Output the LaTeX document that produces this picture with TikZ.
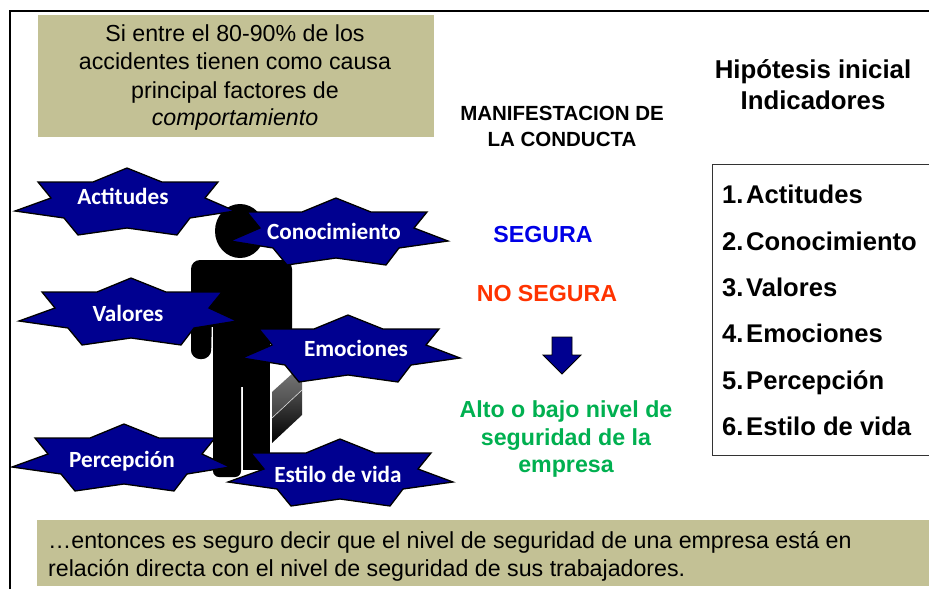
\documentclass[tikz,border=0pt]{standalone}
\usepackage{fontspec}
\setmainfont{Liberation Sans}
\newfontfamily\starfont{Carlito}
\definecolor{olivebox}{HTML}{C3C195}
\definecolor{starblue}{HTML}{000090}
\definecolor{safeblue}{HTML}{0000E6}
\definecolor{unsafered}{HTML}{FF3300}
\definecolor{levelgreen}{HTML}{00B050}
\tikzset{
  olivefill/.style={fill=olivebox,draw=none},
  boldtext/.style={inner sep=0pt,align=center},
  starshape/.style={fill=starblue,draw=black,line width=1.3pt,line join=miter},
  startext/.style={inner sep=0pt,text=white,font=\starfont\fontsize{23.2}{23.2}\selectfont\bfseries},
  figurefill/.style={fill=black,draw=none},
  listtext/.style={inner sep=0pt,anchor=base west,font=\fontsize{25.6}{25.6}\selectfont\bfseries},
}
% #1 name, #2 apex x, #3 apex y, #4 left tip dx, #5 right tip dx, #6 text, #7 text dx, #8 text dy
\newcommand{\blobstar}[8]{%
  \draw[starshape] (#2,#3) ++(#4,43) -- ++(-#4-63,7) -- ++(14,17) -- ++(49,-7) -- ++(50,7) -- ++(13,-17)
    -- (#2+#5,#3+43) -- (#2+78,#3+30) -- (#2+91,#3+14) -- (#2+35,#3+14) -- (#2,#3) -- (#2-34,#3+14)
    -- (#2-89,#3+14) -- (#2-76,#3+30) -- cycle;
  \node[startext] (#1) at (#2+#7,#3+#8) {#6};%
}
\begin{document}
\begin{tikzpicture}[x=1pt,y=-1pt]
\useasboundingbox (0,0) rectangle (929,589);
\fill[white] (0,0) rectangle (929,589);
% slide frame
\draw[black,line width=1.2pt] (10,589) -- (10,11) -- (929,11);
% olive boxes
\path[olivefill] (38,15) rectangle (434,137);
\path[olivefill] (37,520) rectangle (929,586);
\node[inner sep=0pt,align=center,font=\fontsize{23.2}{28}\selectfont] (intro) at (235,78)
  {Si entre el 80-90\% de los\\accidentes tienen como causa\\principal factores de\\\textit{comportamiento}};
\node[inner sep=0pt,align=left,anchor=west,font=\fontsize{23.2}{28}\selectfont] (closing) at (48,556)
  {…entonces es seguro decir que el nivel de seguridad de una empresa está en\\relación directa con el nivel de seguridad de sus trabajadores.};
% headings
\node[boldtext,font=\fontsize{20.5}{26}\selectfont\bfseries,text=black] (manif) at (562,126) {MANIFESTACION DE\\LA CONDUCTA};
\node[boldtext,font=\fontsize{25.8}{31}\selectfont\bfseries,text=black] (hipo) at (813,85) {Hipótesis inicial\\Indicadores};
\node[boldtext,font=\fontsize{23.2}{23.2}\selectfont\bfseries,text=safeblue] (segura) at (543,235) {SEGURA};
\node[boldtext,font=\fontsize{23.2}{23.2}\selectfont\bfseries,text=unsafered] (nosegura) at (547,294) {NO SEGURA};
\node[boldtext,font=\fontsize{23.2}{27.5}\selectfont\bfseries,text=levelgreen] (nivel) at (566,439) {Alto o bajo nivel de\\seguridad de la\\empresa};
% down arrow
\path[fill=starblue,draw=black,line width=.9pt] (552,337) -- (572,337) -- (572,355) -- (581,355) -- (562,374) -- (543,355) -- (552,355) -- cycle;
% indicator list
\draw[draw=black!80,line width=1pt] (929,164) -- (712,164) -- (712,455) -- (929,455);
\foreach \n/\ty/\lab in {1/203/Actitudes,2/250/Conocimiento,3/296/Valores,4/342/Emociones,5/389/Percepción,6/435/Estilo de vida}{
  \node[listtext] (num\n) at (722,\ty) {\n.};
  \node[listtext] (item\n) at (746,\ty) {\lab};
}
% striped strip behind the figure
\shade[top color=black!55,bottom color=black!75] (272,392) -- (293,373) -- (302,381) -- (302,390) -- (272,418) -- cycle;
\shade[top color=black!70,bottom color=black] (272,418) -- (302,390) -- (302,415) -- (272,443) -- cycle;
\draw[black!15,line width=.6pt] (272,418) -- (302,390);
% figure
\path[figurefill] (240,231) ellipse (25 and 27);
\path[figurefill,rounded corners=9pt] (191,260) -- (292,260) -- (292,345) -- (270,345) -- (270,270) -- (213,270) -- (211,359) -- (191,359) -- cycle;
\path[figurefill] (201,349) circle (10);
\path[figurefill] (205,266) rectangle (270,327);
\path[figurefill] (213,262) rectangle (270,387);
\path[figurefill,rounded corners=6pt] (213,380) -- (241,380) -- (241,477) -- (213,477) -- cycle;
\path[figurefill] (243,380) rectangle (270,470);
% stars
\blobstar{actitudes}{127}{168}{-112}{108}{Actitudes}{-4}{28}
\blobstar{conoc}{336}{198}{-106}{112}{Conocimiento}{-2}{33}
\blobstar{valores}{131}{278}{-112}{106}{Valores}{-3}{35}
\blobstar{emociones}{348}{315}{-106}{112}{Emociones}{8}{33}
\blobstar{percep}{124}{424}{-112}{106}{Percepción}{-2}{37}
\blobstar{estilo}{340}{439}{-112}{113}{Estilo de vida}{-2}{35}
\end{tikzpicture}
\end{document}
